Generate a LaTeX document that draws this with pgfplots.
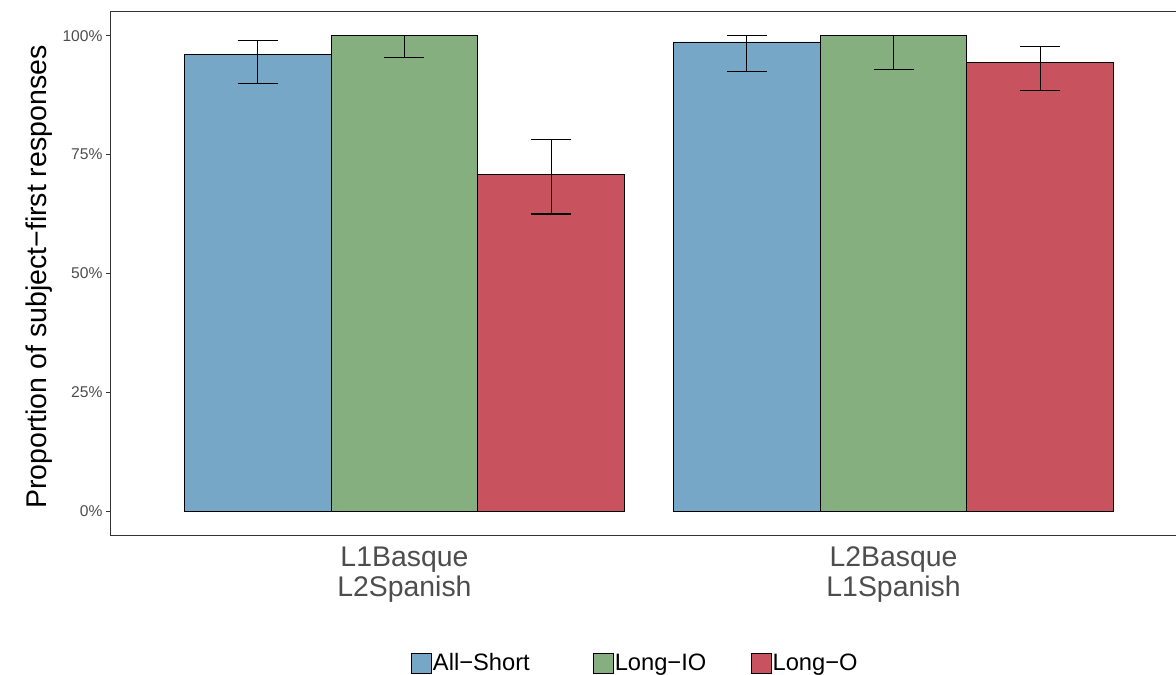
\documentclass[border=0pt]{standalone}
\usepackage{pgfplots}
\pgfplotsset{compat=1.18}
\usepackage{fontspec}
\setmainfont{Liberation Sans}
\definecolor{cblue}{RGB}{119,167,198}
\definecolor{cgreen}{RGB}{133,175,127}
\definecolor{cred}{RGB}{201,82,95}
\definecolor{gthirty}{RGB}{77,77,77}
\definecolor{gtwenty}{RGB}{51,51,51}
\begin{document}
\begin{tikzpicture}
\begin{axis}[
  at={(0pt,0pt)}, anchor=south west,
  scale only axis, width=1076pt, height=523pt,
  xmin=0.4, xmax=2.6, ymin=-0.05, ymax=1.05,
  axis line style={gtwenty, line width=1pt},
  xtick={1,2},
  xticklabels={L1Basque\\L2Spanish, L2Basque\\L1Spanish},
  x tick style={draw=none},
  xticklabel style={align=center, text=gthirty, font=\fontsize{28.4}{30}\selectfont, yshift=-3pt},
  ytick={0,0.25,0.5,0.75,1},
  yticklabels={0\%,25\%,50\%,75\%,100\%},
  yticklabel style={text=gthirty, font=\fontsize{15.6}{18}\selectfont},
  y tick style={gtwenty, line width=1pt},
  tick align=outside, major tick length=5pt,
  ytick pos=left, xtick pos=bottom,
  ylabel={Proportion of subject−first responses},
  ylabel style={font=\fontsize{28.5}{30}\selectfont, at={(axis description cs:-0.067,0.493)}, anchor=center},
  legend columns=3,
  legend image code/.code={\draw[#1, draw=black, line width=0.8pt] (0pt,-10pt) rectangle (20pt,10pt);},
  legend style={draw=none, fill=none, inner sep=0pt, column sep=0pt,
    font=\fontsize{23.7}{26}\selectfont,
    at={(axis description cs:0.2788,-0.245)}, anchor=west,
    nodes={inner sep=1pt}},
  legend cell align=left,
  error bars/error bar style={line width=1.3pt, black},
  error bars/error mark=|,
  error bars/error mark options={line width=1.3pt, mark size=20pt, black},
]
\addplot[ybar, bar width=0.3, bar shift=0, fill=cblue, draw=black, line width=0.9pt,
  error bars/.cd, y dir=both, y explicit]
  coordinates {(0.7,0.960) += (0,0.030) -= (0,0.061)
               (1.7,0.987) += (0,0.013) -= (0,0.062)};
\addlegendentry{\makebox[159pt][l]{All−Short}}
\addplot[ybar, bar width=0.3, bar shift=0, fill=cgreen, draw=black, line width=0.9pt,
  error bars/.cd, y dir=both, y explicit]
  coordinates {(1.0,1.000) += (0,0.000) -= (0,0.045)
               (2.0,1.000) += (0,0.000) -= (0,0.071)};
\addlegendentry{\makebox[135pt][l]{Long−IO}}
\addplot[ybar, bar width=0.3, bar shift=0, fill=cred, draw=black, line width=0.9pt,
  error bars/.cd, y dir=both, y explicit]
  coordinates {(1.3,0.708) += (0,0.074) -= (0,0.083)
               (2.3,0.943) += (0,0.035) -= (0,0.058)};
\addlegendentry{Long−O}
\end{axis}
\pgfresetboundingbox
\useasboundingbox (-111pt,-140pt) rectangle (1065pt,535pt);
\end{tikzpicture}
\end{document}
